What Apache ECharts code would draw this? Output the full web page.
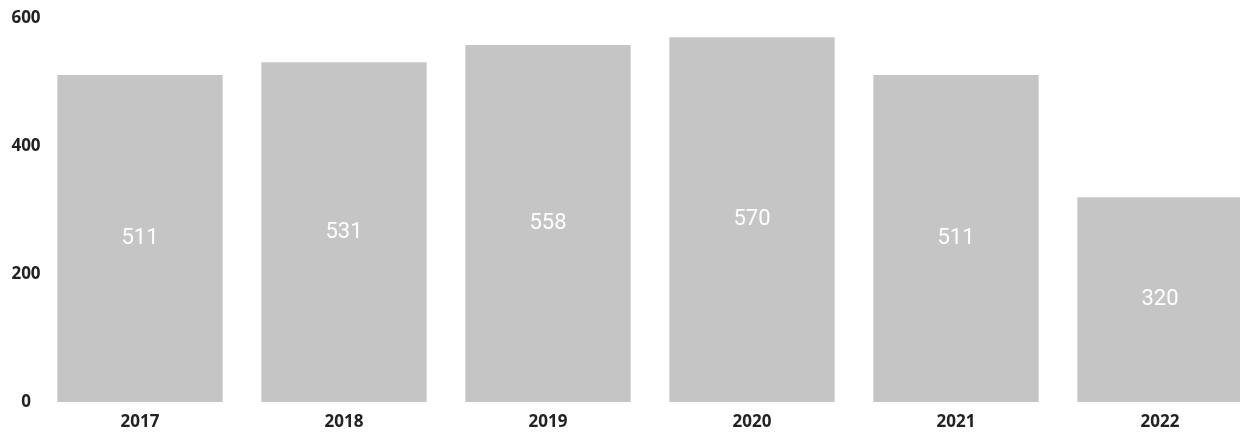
<!DOCTYPE html>
<html>
<head>
<meta charset="utf-8">
<script src="https://cdn.jsdelivr.net/npm/echarts@6/dist/echarts.min.js"></script>
<style>
  html, body { margin: 0; padding: 0; background: #fff; overflow: hidden; }
  /* the scan cuts the last bar off, so the chart is a bit wider than the page */
  #chart { width: 1264px; height: 447px; }
</style>
</head>
<body>
<div id="chart"></div>
<script>
// yearly totals
const years = ["2017", "2018", "2019", "2020", "2021", "2022"];
const totals = [511, 531, 558, 570, 511, 320];
const yTicks = [0, 200, 400, 600];

const chart = echarts.init(document.getElementById("chart"));

chart.setOption({
  animation: false,
  grid: { left: 38, top: 18, right: 2, height: 384 },
  xAxis: {
    type: "category",
    data: years,
    axisLine: { show: false },
    axisTick: { show: false },
    axisLabel: {
      color: "#222",
      fontFamily: "Open Sans",
      fontWeight: "bold",
      fontSize: 17,
      margin: 12,
    },
  },
  yAxis: {
    type: "value",
    min: yTicks[0],
    max: yTicks[yTicks.length - 1],
    interval: 200,
    splitLine: { show: false },
    axisLabel: {
      color: "#222",
      fontFamily: "Open Sans",
      fontWeight: "bold",
      fontSize: 17,
      align: "center",
      margin: 12,
    },
  },
  series: [{
    type: "bar",
    data: totals,
    barWidth: "81%",
    itemStyle: { color: "#c5c5c5" },
    label: {
      show: true,
      position: "inside",
      color: "#fff",
      fontFamily: "Roboto",
      fontSize: 22,
    },
  }],
});
</script>
</body>
</html>
